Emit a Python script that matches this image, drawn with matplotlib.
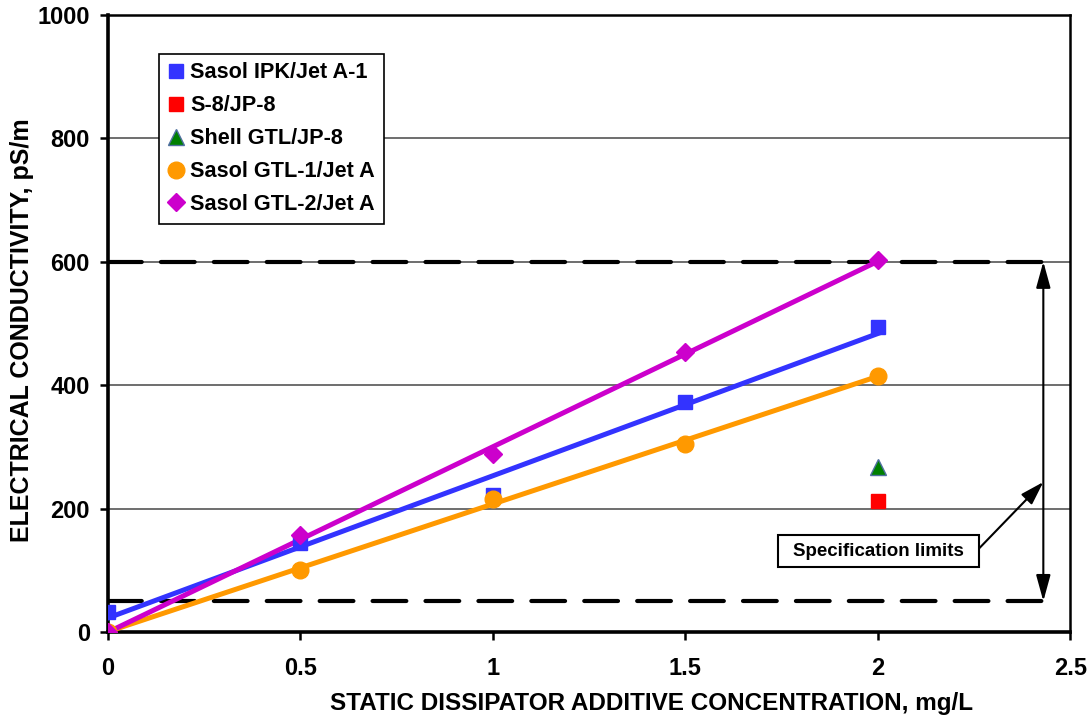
import matplotlib.pyplot as plt
from matplotlib.patches import Rectangle
import numpy as np

plt.rcParams['font.family'] = ['Liberation Sans', 'DejaVu Sans']
plt.rcParams['font.weight'] = 'bold'

# data
conc = [0, 0.5, 1, 1.5, 2]
ipk = [32, 145, 222, 373, 494]
gtl1 = [0, 101, 216, 305, 415]
gtl2 = [0, 157, 288, 453, 603]
s8_x, s8_y = [2], [213]
shell_x, shell_y = [2], [268]
specLimits = [50, 600]

fig = plt.figure(figsize=(10.91, 7.16), dpi=100)
ax = fig.add_axes([0.099, 0.1173, 0.882, 0.862])

ax.set_xlim(0, 2.5)
ax.set_ylim(0, 1000)
ax.set_xticks([0, 0.5, 1, 1.5, 2, 2.5])
ax.set_xticklabels(['0', '0.5', '1', '1.5', '2', '2.5'])
ax.set_yticks([0, 200, 400, 600, 800, 1000])
ax.yaxis.grid(True, color='#555555', linewidth=1.2)
ax.set_axisbelow(True)

for s in ['left', 'bottom']:
    ax.spines[s].set_linewidth(2.6)
for s in ['top', 'right']:
    ax.spines[s].set_linewidth(1.8)
ax.tick_params(axis='both', direction='out', length=6, width=1.8, labelsize=17)
ax.tick_params(axis='x', pad=12)
ax.tick_params(axis='y', pad=7)

# specification limits
for lim in specLimits:
    ax.plot([0, 2.45], [lim, lim], color='black', linewidth=3.0,
            dashes=(8.1, 4.6), dash_capstyle='round', zorder=2)

# linear fits
xx = np.array(conc)
series = [(ipk, '#3333FF'), (gtl1, '#FF9900'), (gtl2, '#CC00CC')]
for ys, col in series:
    k, b = np.polyfit(xx, ys, 1)
    ax.plot([0, 2], [b, k * 2 + b], color=col, linewidth=3.6, zorder=3)

ax.plot(conc, ipk, 's', color='#3333FF', markersize=10, linestyle='none',
        label='Sasol IPK/Jet A-1', zorder=4)
ax.plot(s8_x, s8_y, 's', color='#FF0000', markersize=10, linestyle='none',
        label='S-8/JP-8', zorder=4)
ax.plot(shell_x, shell_y, '^', color='#008000', markeredgecolor='#4F6FA0',
        markersize=11, linestyle='none', label='Shell GTL/JP-8', zorder=4)
ax.plot(conc, gtl1, 'o', color='#FF9900', markersize=12, linestyle='none',
        label='Sasol GTL-1/Jet A', zorder=4)
ax.plot(conc, gtl2, 'D', color='#CC00CC', markersize=8.8, linestyle='none',
        label='Sasol GTL-2/Jet A', zorder=4)

# double arrow between the limits
ax.annotate('', xy=(2.43, specLimits[1]), xytext=(2.43, specLimits[0]),
            arrowprops=dict(arrowstyle='<|-|>,head_length=0.8,head_width=0.22',
                            color='black', lw=1.5, mutation_scale=20,
                            shrinkA=0, shrinkB=0))

# label box with pointer
ax.add_patch(Rectangle((1.740, 105), 0.524, 52, facecolor='white',
                       edgecolor='black', linewidth=1.5, zorder=5))
ax.text(2.002, 131, 'Specification limits', ha='center', va='center',
        fontsize=13.5, fontweight='bold', zorder=6)
ax.annotate('', xy=(2.43, 243), xytext=(2.264, 136),
            arrowprops=dict(arrowstyle='-|>,head_length=0.8,head_width=0.25',
                            color='black', lw=1.5, mutation_scale=18,
                            shrinkA=0, shrinkB=0))

leg = ax.legend(loc='upper left', bbox_to_anchor=(0.053, 0.937), fontsize=15.6,
                frameon=True, fancybox=False, framealpha=1, edgecolor='black',
                handlelength=0.75, handletextpad=0.3, borderpad=0.4,
                labelspacing=0.55, borderaxespad=0)
leg.get_frame().set_linewidth(1.2)

ax.set_xlabel('STATIC DISSIPATOR ADDITIVE CONCENTRATION, mg/L', fontsize=17.5,
              fontweight='bold')
ax.xaxis.set_label_coords(0.565, -0.098)
ax.set_ylabel('ELECTRICAL CONDUCTIVITY, pS/m', fontsize=18, fontweight='bold')
ax.yaxis.label.set_va('center')
ax.yaxis.set_label_coords(-0.089, 0.489)

plt.savefig('out.png', dpi=100)
